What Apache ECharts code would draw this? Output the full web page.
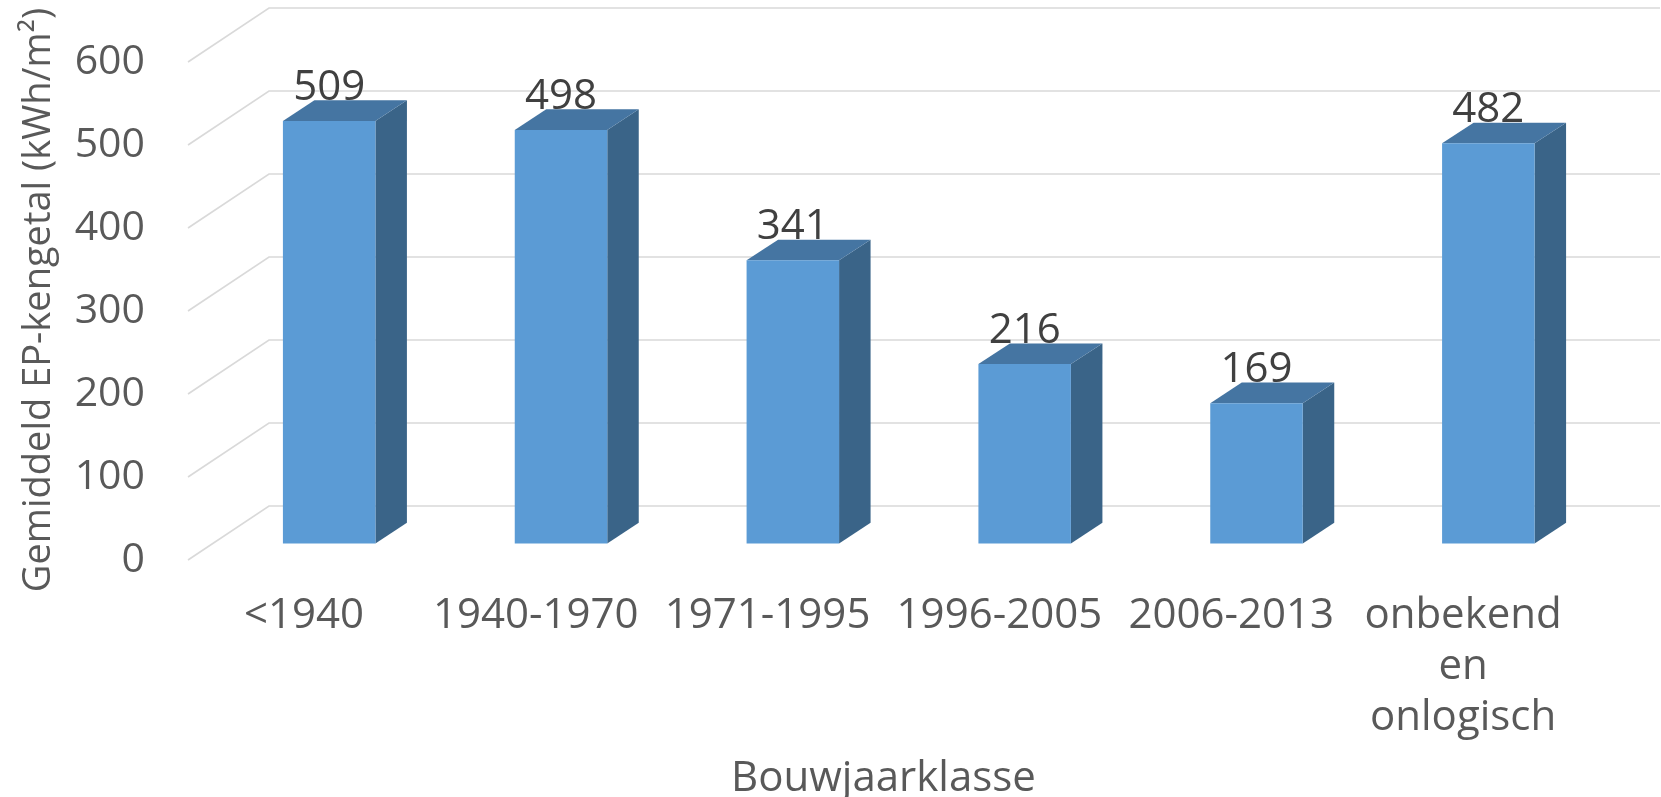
<!DOCTYPE html>
<html>
<head>
<meta charset="utf-8">
<title>Bouwjaarklasse</title>
<script src="https://cdn.jsdelivr.net/npm/echarts@6/dist/echarts.min.js"></script>
<style>
html, body { margin: 0; padding: 0; background: #fff; }
#chart { width: 1661px; height: 797px; }
</style>
</head>
<body>
<div id="chart"></div>
<script>
var categories = ["<1940", "1940-1970", "1971-1995", "1996-2005", "2006-2013", "onbekend\nen\nonlogisch"];
var values = [509, 498, 341, 216, 169, 482];
var yTicks = [0, 100, 200, 300, 400, 500, 600];
var yTitle = "Gemiddeld EP-kengetal (kWh/m²)";
var xTitle = "Bouwjaarklasse";

var fontName = "Open Sans";
var wallDx = 81, wallDy = 54;     // diepte van de vloer
var barW = 92.5, barDx = 31.5, barDy = 20.7;
var barShiftX = 25.25, barShiftY = 16.6; // voorvlak balk t.o.v. voorkant vloer

function renderWall(params, api) {
    var sys = params.coordSys;
    var p = api.coord([0, api.value(0)]);
    return {
        type: "polyline",
        shape: { points: [
            [sys.x, p[1]],
            [sys.x + wallDx, p[1] - wallDy],
            [sys.x + sys.width + wallDx, p[1] - wallDy]
        ] },
        style: { fill: null, stroke: "#d9d9d9", lineWidth: 1.6 }
    };
}

function renderBar(params, api) {
    var idx = api.value(0);
    var top = api.coord([idx, api.value(1)]);
    var base = api.coord([idx, 0]);
    var l = top[0] + barShiftX - barW / 2;
    var r = l + barW;
    var t = top[1] - barShiftY;
    var b = base[1] - barShiftY;
    return {
        type: "group",
        children: [{
            type: "polygon",
            shape: { points: [[r, t], [r + barDx, t - barDy], [r + barDx, b - barDy], [r, b]] },
            style: { fill: "#3a6488" }
        }, {
            type: "polygon",
            shape: { points: [[l, t], [l + barDx, t - barDy], [r + barDx, t - barDy], [r, t]] },
            style: { fill: "#4575a2" }
        }, {
            type: "rect",
            shape: { x: l, y: t, width: barW, height: b - t },
            style: { fill: "#5b9bd5" }
        }, {
            type: "text",
            x: l + barW / 2,
            y: t - 33,
            style: {
                text: String(api.value(1)),
                fill: "#404040",
                font: "42px '" + fontName + "'",
                align: "center",
                verticalAlign: "middle"
            }
        }]
    };
}

var chart = echarts.init(document.getElementById("chart"), null, { renderer: "canvas" });
chart.setOption({
    animation: false,
    backgroundColor: "#ffffff",
    textStyle: { fontFamily: fontName },
    grid: { left: 188, top: 62, width: 1391, height: 498, containLabel: false, outerBoundsMode: "none" },
    xAxis: {
        type: "category",
        data: categories,
        name: xTitle,
        nameLocation: "middle",
        nameGap: 198,
        nameTextStyle: { color: "#595959", fontSize: 42, fontFamily: fontName },
        axisLine: { show: false },
        axisTick: { show: false },
        axisLabel: {
            interval: 0,
            margin: 31,
            color: "#595959",
            fontSize: 42,
            lineHeight: 51,
            align: "center",
            verticalAlign: "top",
            fontFamily: fontName
        }
    },
    yAxis: {
        type: "value",
        min: 0,
        max: 600,
        interval: 100,
        name: yTitle,
        nameLocation: "middle",
        nameRotate: 90,
        nameGap: 130,
        nameTextStyle: { color: "#595959", fontSize: 38, fontFamily: fontName, padding: [0, 0, 0, 22] },
        axisLine: { show: false },
        axisTick: { show: false },
        splitLine: { show: false },
        axisLabel: { margin: 43, color: "#595959", fontSize: 41, fontFamily: fontName, padding: [16, 0, 0, 0] }
    },
    series: [{
        type: "custom",
        name: "wand",
        silent: true,
        renderItem: renderWall,
        encode: { y: 0 },
        data: yTicks.map(function(v) { return [v]; }),
        z: 1
    }, {
        type: "custom",
        name: "EP-kengetal",
        renderItem: renderBar,
        encode: { x: 0, y: 1 },
        data: values.map(function(v, i) { return [i, v]; }),
        z: 2
    }]
});
</script>
</body>
</html>
